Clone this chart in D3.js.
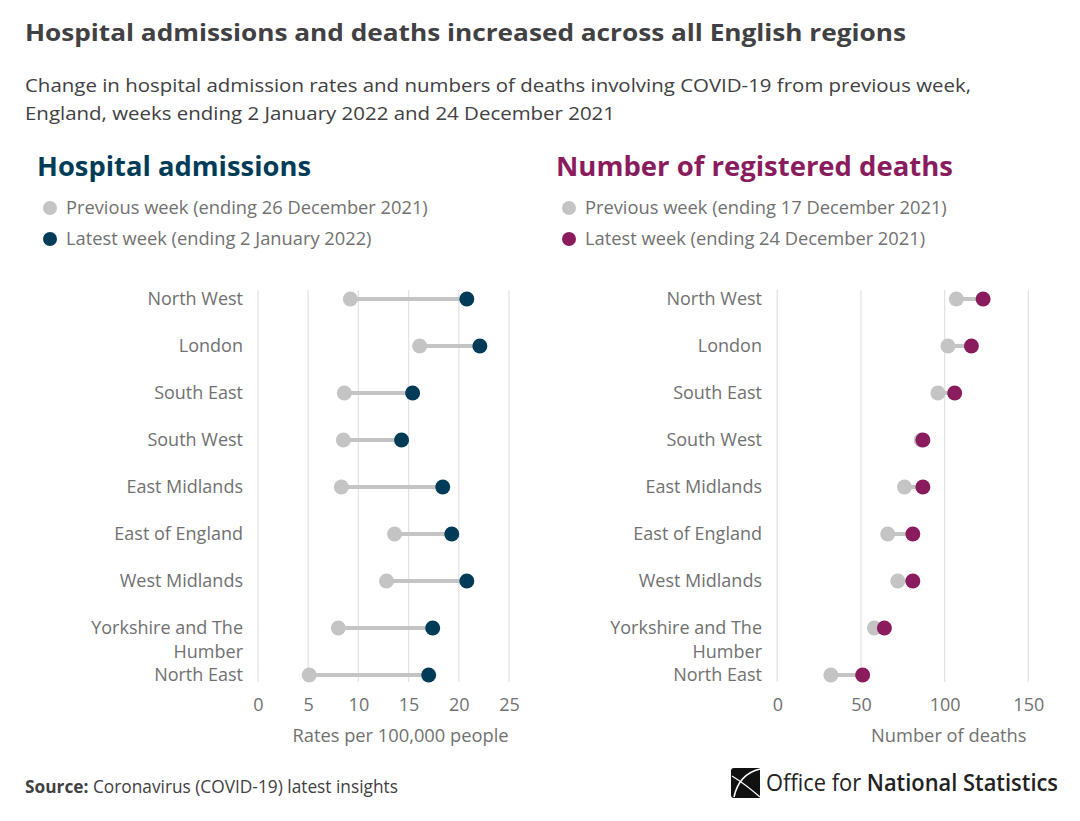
<!DOCTYPE html>
<html><head><meta charset="utf-8">
<script src="https://cdn.jsdelivr.net/npm/d3@7"></script>
<style>
body{margin:0;background:#fff;}
svg{display:block;font-family:"Open Sans",sans-serif;}
</style></head>
<body><svg id="c" width="1080" height="821"></svg>
<script>
const regions = ["North West","London","South East","South West","East Midlands","East of England","West Midlands","Yorkshire and The Humber","North East"];
const admPrev = [9.2,16.1,8.6,8.5,8.3,13.6,12.8,8.0,5.1];
const admLatest = [20.8,22.1,15.4,14.3,18.4,19.3,20.8,17.4,17.0];
const deathPrev = [107,102,96,86,76,66,72,58,32];
const deathLatest = [123,116,106,87,87,81,81,64,51];
const admTicks = [0,5,10,15,20,25];
const deathTicks = [0,50,100,150];

const svg = d3.select("#c");
const textGrey = "#717171";
const dark = "#414042";
const teal = "#003c57";
const plum = "#8a1c5e";
const grey = "#c4c4c4";

svg.append("text").attr("x",25).attr("y",41).attr("font-size",24).attr("font-weight",700)
  .attr("fill",dark).attr("textLength",881).attr("lengthAdjust","spacingAndGlyphs")
  .text("Hospital admissions and deaths increased across all English regions");
svg.append("text").attr("x",25).attr("y",92).attr("font-size",19).attr("fill",dark)
  .attr("textLength",946).attr("lengthAdjust","spacingAndGlyphs")
  .text("Change in hospital admission rates and numbers of deaths involving COVID-19 from previous week,");
svg.append("text").attr("x",25).attr("y",120).attr("font-size",19).attr("fill",dark)
  .attr("textLength",590).attr("lengthAdjust","spacingAndGlyphs")
  .text("England, weeks ending 2 January 2022 and 24 December 2021");

function panel(cfg){
  const g = svg.append("g");
  g.append("text").attr("x",cfg.titleX).attr("y",176).attr("font-size",26).attr("font-weight",700)
    .attr("fill",cfg.color).attr("textLength",cfg.titleW).attr("lengthAdjust","spacingAndGlyphs").text(cfg.title);
  const leg = [{c:grey,t:cfg.legPrev},{c:cfg.color,t:cfg.legLatest}];
  leg.forEach((d,i)=>{
    g.append("circle").attr("cx",cfg.titleX+13).attr("cy",208+i*31).attr("r",7).attr("fill",d.c);
    g.append("text").attr("x",cfg.titleX+29).attr("y",208+i*31).attr("dy","0.35em").attr("font-size",18.3)
      .attr("fill",textGrey).text(d.t);
  });
  const x = d3.scaleLinear().domain(cfg.domain).range(cfg.range);
  const y = d3.scalePoint().domain(regions).range([299,675]);
  g.selectAll(".grid").data(cfg.ticks).join("line")
    .attr("x1",d=>x(d)).attr("x2",d=>x(d)).attr("y1",290).attr("y2",682)
    .attr("stroke","#e3e3e3").attr("stroke-width",1.3);
  const ax = g.append("g").attr("transform","translate(0,705)")
    .call(d3.axisBottom(x).tickValues(cfg.ticks).tickSize(0).tickPadding(0));
  ax.select(".domain").remove();
  ax.selectAll("text").attr("font-size",18).attr("fill",textGrey).attr("font-family","Open Sans").attr("dy","0.35em");
  g.append("text").attr("x",(cfg.range[0]+cfg.range[1])/2 + cfg.axOff).attr("y",736).attr("dy","0.35em")
    .attr("text-anchor","middle").attr("font-size",18.3).attr("fill",textGrey).text(cfg.axTitle);
  regions.forEach((r,i)=>{
    const t = g.append("text").attr("x",cfg.labelX).attr("y",y(r)).attr("text-anchor","end")
      .attr("font-size",18).attr("fill",textGrey).attr("dy","0.35em");
    if(r==="Yorkshire and The Humber"){
      t.append("tspan").attr("x",cfg.labelX).attr("dy","0.35em").text("Yorkshire and The");
      t.append("tspan").attr("x",cfg.labelX).attr("dy","1.33em").text("Humber");
      t.attr("dy",null);
    } else t.text(r);
  });
  const rows = regions.map((r,i)=>({r,p:cfg.prev[i],l:cfg.latest[i]}));
  g.selectAll(".seg").data(rows).join("line")
    .attr("x1",d=>x(d.p)).attr("x2",d=>x(d.l)).attr("y1",d=>y(d.r)).attr("y2",d=>y(d.r))
    .attr("stroke",grey).attr("stroke-width",4);
  g.selectAll(".p").data(rows).join("circle").attr("cx",d=>x(d.p)).attr("cy",d=>y(d.r)).attr("r",7.5).attr("fill",grey);
  g.selectAll(".l").data(rows).join("circle").attr("cx",d=>x(d.l)).attr("cy",d=>y(d.r)).attr("r",7.5).attr("fill",cfg.color);
}

panel({title:"Hospital admissions",titleX:37,titleW:274,color:teal,
  legPrev:"Previous week (ending 26 December 2021)",legLatest:"Latest week (ending 2 January 2022)",
  domain:[0,25],range:[258,509],ticks:admTicks,labelX:243,prev:admPrev,latest:admLatest,
  axTitle:"Rates per 100,000 people",axOff:17});
panel({title:"Number of registered deaths",titleX:556,titleW:397,color:plum,
  legPrev:"Previous week (ending 17 December 2021)",legLatest:"Latest week (ending 24 December 2021)",
  domain:[0,150],range:[777.3,1028.3],ticks:deathTicks,labelX:762,prev:deathPrev,latest:deathLatest,
  axTitle:"Number of deaths",axOff:46});

// source
const src = svg.append("text").attr("x",25).attr("y",787).attr("dy","0.35em").attr("font-size",17.3).attr("fill",dark);
src.append("tspan").attr("font-weight",700).text("Source:");
src.append("tspan").text(" Coronavirus (COVID-19) latest insights");

// logo
const lg = svg.append("g").attr("transform","translate(731,768)");
lg.append("path").attr("d","M3,0 H29 V30 H3 Q0,30 0,27 V3 Q0,0 3,0 Z").attr("fill","#111");
lg.append("path").attr("d","M29,1 Q8,6 3,29").attr("fill","none").attr("stroke","#fff").attr("stroke-width",1.6);
lg.append("path").attr("d","M1,8 Q14,16 29,29").attr("fill","none").attr("stroke","#fff").attr("stroke-width",1.2);
const lt = svg.append("text").attr("x",766).attr("y",783).attr("dy","0.35em").attr("font-size",24).attr("fill","#222")
  .attr("textLength",292).attr("lengthAdjust","spacingAndGlyphs");
lt.append("tspan").text("Office for ");
lt.append("tspan").attr("font-weight",600).text("National Statistics");
</script></body></html>
